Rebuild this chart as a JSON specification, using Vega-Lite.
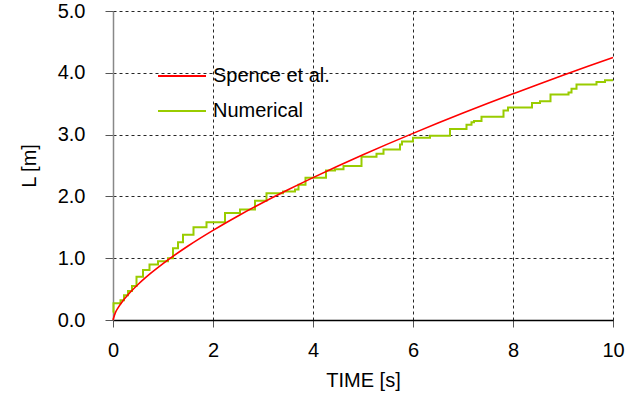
{
  "$schema": "https://vega.github.io/schema/vega-lite/v6.json",
  "width": 500,
  "height": 309,
  "autosize": {"type": "none"},
  "padding": {"left": 113, "top": 11, "right": 24, "bottom": 81},
  "background": "white",
  "config": {
    "view": {"stroke": null},
    "font": "Liberation Sans",
    "axis": {
      "labelFont": "Liberation Sans",
      "titleFont": "Liberation Sans",
      "labelColor": "#000",
      "titleColor": "#000",
      "labelFontSize": 20,
      "titleFontSize": 20,
      "titleFontWeight": "normal",
      "grid": true,
      "gridColor": "#000",
      "gridDash": [3, 3],
      "gridOpacity": 0.85,
      "gridWidth": 1,
      "tickColor": "#555",
      "tickWidth": 1
    }
  },
  "datasets": {
    "spence": [
      {"t": 0, "L": 0, "series": "Spence et al."},
      {"t": 0.05, "L": 0.123, "series": "Spence et al."},
      {"t": 0.1, "L": 0.196, "series": "Spence et al."},
      {"t": 0.2, "L": 0.311, "series": "Spence et al."},
      {"t": 0.3, "L": 0.408, "series": "Spence et al."},
      {"t": 0.5, "L": 0.574, "series": "Spence et al."},
      {"t": 0.75, "L": 0.753, "series": "Spence et al."},
      {"t": 1, "L": 0.913, "series": "Spence et al."},
      {"t": 1.5, "L": 1.197, "series": "Spence et al."},
      {"t": 2, "L": 1.45, "series": "Spence et al."},
      {"t": 2.5, "L": 1.683, "series": "Spence et al."},
      {"t": 3, "L": 1.901, "series": "Spence et al."},
      {"t": 3.5, "L": 2.107, "series": "Spence et al."},
      {"t": 4, "L": 2.304, "series": "Spence et al."},
      {"t": 4.5, "L": 2.493, "series": "Spence et al."},
      {"t": 5, "L": 2.674, "series": "Spence et al."},
      {"t": 5.5, "L": 2.85, "series": "Spence et al."},
      {"t": 6, "L": 3.02, "series": "Spence et al."},
      {"t": 6.5, "L": 3.186, "series": "Spence et al."},
      {"t": 7, "L": 3.348, "series": "Spence et al."},
      {"t": 7.5, "L": 3.506, "series": "Spence et al."},
      {"t": 8, "L": 3.66, "series": "Spence et al."},
      {"t": 8.5, "L": 3.812, "series": "Spence et al."},
      {"t": 9, "L": 3.96, "series": "Spence et al."},
      {"t": 9.5, "L": 4.106, "series": "Spence et al."},
      {"t": 10, "L": 4.249, "series": "Spence et al."}
    ],
    "numerical": [
      {"t": 0, "L": 0.12, "series": "Numerical"},
      {"t": 0.01, "L": 0.27, "series": "Numerical"},
      {"t": 0.15, "L": 0.32, "series": "Numerical"},
      {"t": 0.22, "L": 0.4, "series": "Numerical"},
      {"t": 0.3, "L": 0.47, "series": "Numerical"},
      {"t": 0.38, "L": 0.55, "series": "Numerical"},
      {"t": 0.47, "L": 0.7, "series": "Numerical"},
      {"t": 0.6, "L": 0.81, "series": "Numerical"},
      {"t": 0.73, "L": 0.9, "series": "Numerical"},
      {"t": 0.9, "L": 0.95, "series": "Numerical"},
      {"t": 1.1, "L": 1.0, "series": "Numerical"},
      {"t": 1.2, "L": 1.16, "series": "Numerical"},
      {"t": 1.3, "L": 1.26, "series": "Numerical"},
      {"t": 1.4, "L": 1.38, "series": "Numerical"},
      {"t": 1.61, "L": 1.5, "series": "Numerical"},
      {"t": 1.87, "L": 1.58, "series": "Numerical"},
      {"t": 2.24, "L": 1.73, "series": "Numerical"},
      {"t": 2.54, "L": 1.79, "series": "Numerical"},
      {"t": 2.84, "L": 1.93, "series": "Numerical"},
      {"t": 3.07, "L": 2.05, "series": "Numerical"},
      {"t": 3.4, "L": 2.08, "series": "Numerical"},
      {"t": 3.64, "L": 2.11, "series": "Numerical"},
      {"t": 3.71, "L": 2.19, "series": "Numerical"},
      {"t": 3.85, "L": 2.3, "series": "Numerical"},
      {"t": 4.26, "L": 2.42, "series": "Numerical"},
      {"t": 4.44, "L": 2.44, "series": "Numerical"},
      {"t": 4.61, "L": 2.49, "series": "Numerical"},
      {"t": 4.97, "L": 2.64, "series": "Numerical"},
      {"t": 5.27, "L": 2.69, "series": "Numerical"},
      {"t": 5.41, "L": 2.76, "series": "Numerical"},
      {"t": 5.74, "L": 2.84, "series": "Numerical"},
      {"t": 5.78, "L": 2.89, "series": "Numerical"},
      {"t": 6.0, "L": 2.95, "series": "Numerical"},
      {"t": 6.34, "L": 2.98, "series": "Numerical"},
      {"t": 6.74, "L": 3.09, "series": "Numerical"},
      {"t": 7.07, "L": 3.16, "series": "Numerical"},
      {"t": 7.17, "L": 3.2, "series": "Numerical"},
      {"t": 7.22, "L": 3.22, "series": "Numerical"},
      {"t": 7.37, "L": 3.29, "series": "Numerical"},
      {"t": 7.81, "L": 3.39, "series": "Numerical"},
      {"t": 7.9, "L": 3.44, "series": "Numerical"},
      {"t": 8.38, "L": 3.51, "series": "Numerical"},
      {"t": 8.54, "L": 3.54, "series": "Numerical"},
      {"t": 8.75, "L": 3.65, "series": "Numerical"},
      {"t": 9.11, "L": 3.68, "series": "Numerical"},
      {"t": 9.17, "L": 3.74, "series": "Numerical"},
      {"t": 9.27, "L": 3.81, "series": "Numerical"},
      {"t": 9.67, "L": 3.85, "series": "Numerical"},
      {"t": 9.84, "L": 3.88, "series": "Numerical"},
      {"t": 10.0, "L": 3.88, "series": "Numerical"}
    ]
  },
  "encoding": {
    "x": {
      "field": "t",
      "type": "quantitative",
      "scale": {"domain": [0, 10], "nice": false},
      "axis": {
        "title": "TIME [s]",
        "values": [0, 2, 4, 6, 8, 10],
        "format": "d",
        "domainColor": "#000",
        "domainWidth": 1.5,
        "tickSize": 7,
        "labelPadding": 13,
        "titlePadding": 10,
        "labelFlush": false
      }
    },
    "y": {
      "field": "L",
      "type": "quantitative",
      "scale": {"domain": [0, 5], "nice": false},
      "axis": {
        "title": "L [m]",
        "values": [0, 1, 2, 3, 4, 5],
        "format": ".1f",
        "domainColor": "#888",
        "domainWidth": 1.5,
        "tickSize": 8,
        "labelPadding": 20,
        "titlePadding": 18,
        "labelFlush": false
      }
    },
    "color": {
      "field": "series",
      "type": "nominal",
      "scale": {"domain": ["Spence et al.", "Numerical"], "range": ["#ff0000", "#99cc00"]},
      "legend": {
        "title": null,
        "orient": "none",
        "legendX": 44,
        "legendY": 40,
        "symbolType": "stroke",
        "symbolSize": 2304,
        "symbolStrokeWidth": 2,
        "labelFont": "Liberation Sans",
        "labelFontSize": 20,
        "labelColor": "#000",
        "labelOffset": 6,
        "padding": 0,
        "rowPadding": 0
      }
    }
  },
  "layer": [
    {
      "data": {"name": "numerical"},
      "mark": {"type": "line", "interpolate": "step-after", "strokeWidth": 2}
    },
    {
      "data": {"name": "spence"},
      "mark": {"type": "line", "interpolate": "monotone", "strokeWidth": 1.6}
    }
  ]
}
